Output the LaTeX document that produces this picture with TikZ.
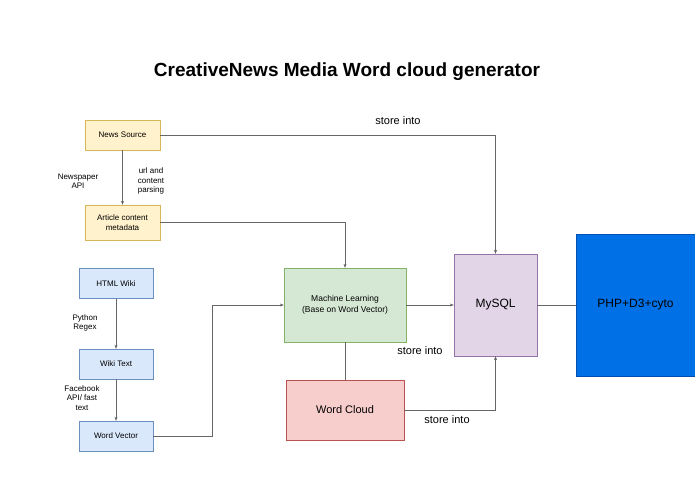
\documentclass[tikz,border=0pt]{standalone}
\usepackage{fontspec}
\setmainfont{Liberation Sans}
\usetikzlibrary{arrows.meta}
\begin{document}
\begin{tikzpicture}[x=1pt,y=-1pt,
 box/.style={draw=#1!60!gray,rectangle,inner sep=0pt,align=center},
 yb/.style={box=orange,fill=yellow!15!orange!20,minimum width=75pt,font=\fontsize{8}{9.5}\selectfont},
 bb/.style={box=blue,fill=blue!15,minimum width=74pt,minimum height=30pt,font=\fontsize{8}{9.5}\selectfont},
 lab/.style={font=\fontsize{8}{9.5}\selectfont,align=center},
 big/.style={font=\fontsize{11}{13}\selectfont,align=center},
 ar/.style={draw=black!60,-{Stealth[length=4pt,width=3pt]}},
 ln/.style={draw=black!60}]
\useasboundingbox (0,0) rectangle (695,494);
\node[font=\fontsize{19}{22}\selectfont\bfseries] (t) at (347,72) {CreativeNews Media Word cloud generator};
\node[yb,minimum height=30pt,fill={rgb,255:red,255;green,242;blue,204},draw={rgb,255:red,214;green,182;blue,86}] (ns) at (122.5,135) {News Source};
\node[yb,minimum height=35pt,fill={rgb,255:red,255;green,242;blue,204},draw={rgb,255:red,214;green,182;blue,86}] (ar) at (122.5,222.5) {Article content\\metadata};
\tikzset{bb/.append style={fill={rgb,255:red,218;green,232;blue,252},draw={rgb,255:red,108;green,142;blue,191}}}
\node[bb] (hw) at (116,283.5) {HTML Wiki};
\node[bb] (wt) at (116,364) {Wiki Text};
\node[bb] (wv) at (116,436) {Word Vector};
\node[box=green,fill={rgb,255:red,213;green,232;blue,212},draw={rgb,255:red,130;green,179;blue,102},minimum width=122pt,minimum height=74pt,font=\fontsize{8.5}{11}\selectfont] (ml) at (345,305) {Machine Learning\\(Base on Word Vector)};
\node[box=red,fill={rgb,255:red,248;green,206;blue,204},draw={rgb,255:red,184;green,84;blue,80},minimum width=118pt,minimum height=60pt,big] (wc) at (345,410) {Word Cloud};
\node[box=violet,fill={rgb,255:red,225;green,213;blue,231},draw={rgb,255:red,150;green,115;blue,166},minimum width=83pt,minimum height=102pt,font=\fontsize{12}{14}\selectfont] (my) at (495.5,305) {MySQL};
\node[fill={rgb,255:red,0;green,112;blue,230},draw={rgb,255:red,0;green,80;blue,180},minimum width=119pt,minimum height=142pt,inner sep=0pt,font=\fontsize{12}{14}\selectfont] (php) at (635.5,305) {PHP+D3+cyto};
\draw[ar] (ns.east) -| (my.north);
\draw[ar] (ns) -- (ar);
\draw[ar] (ar.east) -| (ml.north);
\draw[ar] (hw) -- (wt);
\draw[ar] (wt) -- (wv);
\draw[ar] (wv.east) -- (212,436) |- (ml.west);
\draw[ar] (ml) -- (my);
\draw[ln] (ml.south) -- (wc.north);
\draw[ar] (wc.east) -| (my.south);
\draw[ln] (my) -- (php);
\node[big] (l1) at (398,121) {store into};
\node[big] (l2) at (420,351) {store into};
\node[big] (l3) at (447,420) {store into};
\node[lab] (l4) at (78,181) {Newspaper\\API};
\node[lab] (l5) at (151,181) {url and\\content\\parsing};
\node[lab] (l6) at (85,323) {Python\\Regex};
\node[lab] (l7) at (82,398) {Facebook\\API/ fast\\text};
\end{tikzpicture}
\end{document}
